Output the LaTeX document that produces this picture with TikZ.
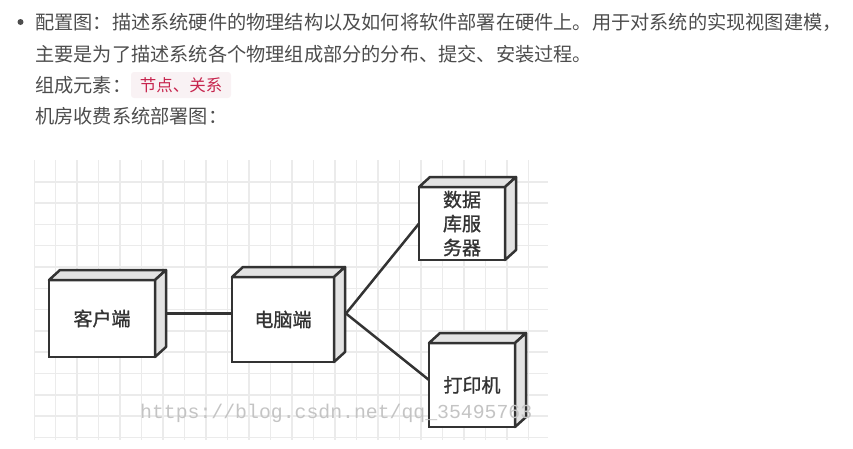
\documentclass[tikz,border=0pt]{standalone}
\usepackage{fontspec}
\newfontfamily\cjk{Noto Sans CJK SC}
\newfontfamily\cjkm{Noto Sans CJK SC}[FakeBold=1.2]
\newfontfamily\wmfont{Liberation Mono}
\usetikzlibrary{backgrounds,calc}
\definecolor{txt}{HTML}{4D4D4D}
\definecolor{codefg}{HTML}{C7254E}
\definecolor{codebg}{HTML}{F9F2F4}
\definecolor{gridc}{HTML}{EBEBEB}
\definecolor{edge}{HTML}{333333}
\definecolor{face}{HTML}{E3E3E3}
\definecolor{wm}{HTML}{C4C4C4}
\newcommand\depthfaces[1]{%
  \draw[sideface] (#1.north west) -- ++(11,-10) -- ($(#1.north east)+(11,-10)$) -- (#1.north east) -- cycle;
  \draw[sideface] (#1.north east) -- ++(11,-10) -- ($(#1.south east)+(11,-10)$) -- (#1.south east) -- cycle;
}
\begin{document}
\begin{tikzpicture}[x=1pt,y=-1pt,
  textline/.style={font=\cjk\fontsize{19.2}{24}\selectfont, text=txt, anchor=base west, inner sep=0},
  frontface/.style={draw=edge, line width=2.5pt, fill=white, inner sep=0, outer sep=0,
    font=\cjkm\fontsize{19}{24}\selectfont, text=edge, align=center},
  sideface/.style={draw=edge, line width=2.5pt, fill=face, line join=round},
  conn/.style={draw=edge, line width=2.5pt},
  gridline/.style={draw=gridc, line width=1.5pt}]
\useasboundingbox (0,0) rectangle (853,448);
% text
\node[circle, fill=txt, minimum size=6pt, inner sep=0] (bullet) at (20.5,22) {};
\node[textline] (l1) at (35,29.4) {配置图：描述系统硬件的物理结构以及如何将软件部署在硬件上。用于对系统的实现视图建模，};
\node[textline] (l2) at (35,61.4) {主要是为了描述系统各个物理组成部分的分布、提交、安装过程。};
\node[textline] (l3) at (35,92.4) {组成元素：};
\node[fill=codebg, rounded corners=3pt, minimum width=100pt, minimum height=26pt, inner sep=0,
  text=codefg, font=\cjk\fontsize{16.5}{16}\selectfont] (code) at (181,85) {节点、关系};
\node[textline] (l4) at (35,123.4) {机房收费系统部署图：};
% nodes
\node[frontface, minimum width=106pt, minimum height=77pt] (kh) at (102,318.5) {客户端};
\node[frontface, minimum width=102pt, minimum height=85pt] (dn) at (283,319.5) {电脑端};
\node[frontface, minimum width=86pt, minimum height=73pt] (db) at (462,223.5) {数据\\库服\\务器};
\node[frontface, minimum width=86pt, minimum height=84pt] (pr) at (472,385) {打印机};
\depthfaces{kh}
\depthfaces{dn}
\depthfaces{db}
\depthfaces{pr}
\coordinate (dnR) at ($(dn.east)+(12,-6)$);
\begin{scope}[on background layer]
  \begin{scope}
    \clip (34,160) rectangle (548,440);
    \foreach \i in {0,...,24} \draw[gridline] (34+21.5*\i,160) -- (34+21.5*\i,440);
    \foreach \j in {1,...,13} \draw[gridline] (34,160.5+21.3*\j) -- (548,160.5+21.3*\j);
  \end{scope}
  \draw[conn] ([yshift=5pt]kh.east) -- ([yshift=5pt]kh.east -| dn.west);
  \draw[conn] (dnR) -- (db.west);
  \draw[conn] (dnR) -- ([yshift=5pt]pr.west);
\end{scope}
% watermark
\node[anchor=west, inner sep=0, text=wm, font=\wmfont\fontsize{19.8}{20}\selectfont] (wmk) at (140,413) {https://blog.csdn.net/qq\_35495763};
\end{tikzpicture}
\end{document}
